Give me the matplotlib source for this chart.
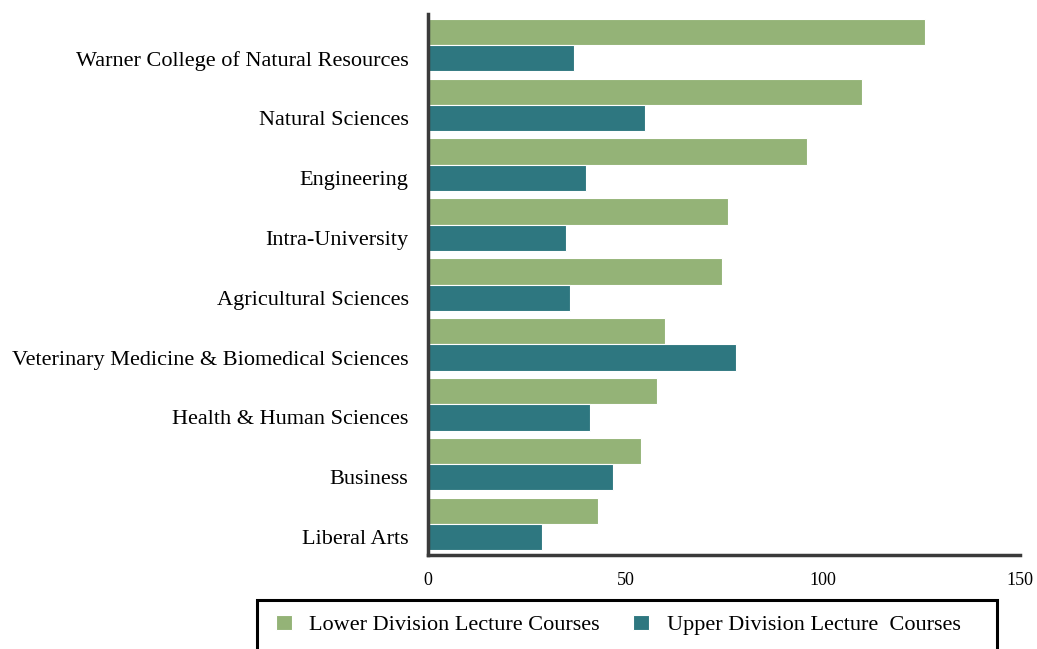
import matplotlib.pyplot as plt
import matplotlib.patches as mpatches
import numpy as np

colleges = ['Warner College of Natural Resources', 'Natural Sciences', 'Engineering',
            'Intra-University', 'Agricultural Sciences',
            'Veterinary Medicine & Biomedical Sciences', 'Health & Human Sciences',
            'Business', 'Liberal Arts']
lower_div = [126, 110, 96, 76, 74.5, 60, 58, 54, 43]
upper_div = [37, 55, 40, 35, 36, 78, 41, 47, 29]

green = '#94b377'
teal = '#2e7780'

plt.rcParams['font.family'] = ['Liberation Serif', 'DejaVu Serif']

W, H = 1037, 649
fig = plt.figure(figsize=(W / 100, H / 100), dpi=100)
ax = fig.add_axes([428 / W, 1 - 555 / H, (1020 - 428) / W, (555 - 14) / H])

y = np.arange(len(colleges))
h = 0.44
ax.barh(y - h / 2, lower_div, height=h, color=green, edgecolor='white', linewidth=0.8,
        label='Lower Division Lecture Courses')
ax.barh(y + h / 2, upper_div, height=h, color=teal, edgecolor='white', linewidth=0.8,
        label='Upper Division Lecture  Courses')

ax.set_yticks(y + h / 2)
ax.set_yticklabels(colleges, fontsize=16)
ax.set_ylim(len(colleges) - 0.5 + 0.02, -0.52)
ax.set_xlim(0, 150)
ax.set_xticks([0, 50, 100, 150])
ax.tick_params(axis='x', labelsize=13, length=0, pad=12)
ax.tick_params(axis='y', length=0, pad=14)

for s in ['top', 'right']:
    ax.spines[s].set_visible(False)
for s in ['left', 'bottom']:
    ax.spines[s].set_linewidth(2.5)
    ax.spines[s].set_color('#3a3a3a')

# legend box drawn separately, cut off by the bottom edge like the original
box = mpatches.Rectangle((257 / W, -0.02), (997 - 257) / W, (H - 600) / H + 0.02,
                         transform=fig.transFigure, fill=False, edgecolor='black',
                         linewidth=2.2)
fig.patches.append(box)

leg = fig.legend(loc='center left', bbox_to_anchor=(276 / W, 1 - 625 / H),
                 ncol=2, fontsize=16, frameon=False,
                 handlelength=0.7, handleheight=0.7, handletextpad=0.8,
                 borderaxespad=0, borderpad=0, columnspacing=1.5)

fig.savefig('out.png', dpi=100)
